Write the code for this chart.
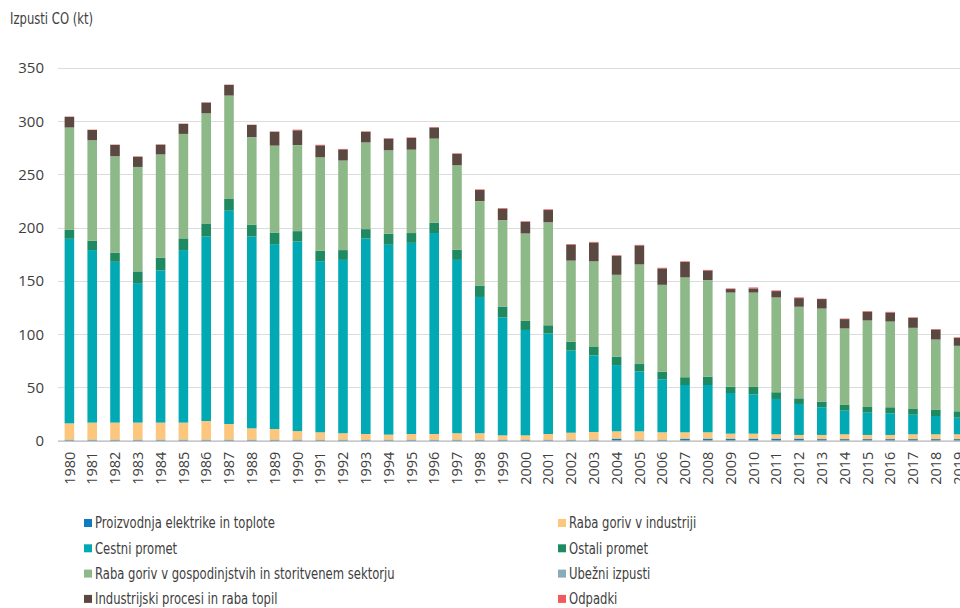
<!DOCTYPE html>
<html>
<head>
<meta charset="utf-8">
<script src="https://cdn.jsdelivr.net/npm/d3@7"></script>
<style>
  body { margin: 0; background: #fff; }
  svg { display: block; }
</style>
</head>
<body>
<div id="chart"></div>
<script>
// Izpusti CO po sektorjih, 1980-2019 (kt)
const years = d3.range(1980, 2020).map(String)

const seriesNames = [
  'Proizvodnja elektrike in toplote',
  'Raba goriv v industriji',
  'Cestni promet',
  'Ostali promet',
  'Raba goriv v gospodinjstvih in storitvenem sektorju',
  'Ubežni izpusti',
  'Industrijski procesi in raba topil',
  'Odpadki',
]

const seriesColors = ['#0f7cc1', '#fcc77c', '#00a9b3', '#1f8a62', '#8db887', '#89acbb', '#5a4841', '#ee5a5d']

const elektrika = [1, 1, 1, 1, 1, 1, 1, 1, 1, 1, 1, 1, 1, 1, 1, 1, 1, 1, 1, 1,
  1, 1, 1, 1, 2, 1, 1, 2, 2, 2, 2, 2, 2, 1.5, 1.5, 1.5, 1.5, 1.5, 1.5, 1.5]
const industrija = [15.3, 16, 16, 16, 16, 16, 17.5, 14.7, 10.6, 10, 8, 6.9, 6, 5.3, 4.7, 5.3, 5.3, 6, 6, 4,
  4, 5.3, 6.5, 7.2, 6.8, 7.8, 6.9, 5.9, 5.9, 4.6, 4.6, 4, 3.4, 3.9, 4.5, 3.9, 3.9, 4.5, 4.5, 4.5]
const cestni = [173.3, 162, 151, 131, 143, 162, 173.2, 200.3, 180.1, 173.6, 178, 160.7, 162.8, 183.7, 178.3, 179.5, 188.7, 162.8, 128, 110.6,
  99, 94.3, 77.1, 71.8, 62.2, 56.2, 49.8, 44.4, 44.4, 38.2, 37, 33.2, 29.1, 26, 22.2, 20.9, 20.3, 18.4, 17.2, 15.6]
const ostaliPromet = [8.4, 8.7, 8.4, 11, 11.7, 11, 12.3, 11, 11, 10.9, 9.8, 9.7, 9.2, 8.7, 10.3, 9.2, 9.6, 9.4, 10.7, 10.4,
  8.5, 7.8, 8.4, 8, 8, 7, 7.1, 7.3, 7.9, 6, 6.9, 6.3, 5.3, 5.3, 5.4, 5.4, 5.7, 5.4, 5.7, 6]
const gospodinjstva = [96, 94.3, 90.6, 98, 97, 98, 103.3, 97, 82.3, 81.5, 80.8, 87.7, 84, 81.3, 78.3, 78.2, 79, 79.3, 79.3, 81,
  82, 96.6, 76, 80.3, 76.7, 93.4, 81.5, 93.6, 90.5, 88.2, 88.5, 88.9, 85.9, 87.3, 71.7, 81.1, 80.4, 76.1, 66, 61.4]
const ubezni = [0.1, 0.1, 0.1, 0.1, 0.1, 0.1, 0.1, 0.1, 0.1, 0.1, 0.1, 0.1, 0.1, 0.1, 0.1, 0.1, 0.1, 0.1, 0.1, 0.1,
  0.1, 0.1, 0.1, 0.1, 0.1, 0.1, 0.1, 0.1, 0.1, 0.1, 0.1, 0.1, 0.1, 0.1, 0.1, 0.1, 0.1, 0.1, 0.1, 0.1]
const procesi = [10, 9.7, 10.7, 9.6, 9.2, 9.4, 10.1, 10, 11.4, 13, 13.8, 11.3, 10.5, 10, 11, 11, 10.4, 10.7, 10.3, 10.8,
  10.9, 11.5, 15, 17.7, 17.9, 17.9, 15.4, 14.5, 9.1, 3.3, 3.9, 6, 8.1, 8.9, 8.8, 8.2, 8.5, 9.4, 9.4, 7.5]
const odpadki = [0.3, 0.3, 0.3, 0.3, 0.3, 0.3, 0.3, 0.3, 0.3, 0.3, 0.6, 0.5, 0.4, 0.4, 0.4, 0.5, 0.5, 0.6, 0.6, 0.6,
  0.6, 0.7, 0.6, 0.6, 0.5, 0.5, 0.6, 0.6, 0.5, 0.6, 0.9, 0.6, 0.7, 0.4, 0.5, 0.6, 0.6, 0.5, 0.5, 0.5]

const yTicks = [0, 50, 100, 150, 200, 250, 300, 350]

const seriesValues = [elektrika, industrija, cestni, ostaliPromet, gospodinjstva, ubezni, procesi, odpadki]

// Build table rows for the stack layout
const table = years.map((year, i) => {
  const row = { year }
  seriesNames.forEach((name, k) => { row[name] = seriesValues[k][i] })
  return row
})

const width = 960
const height = 608
const margin = { top: 68, left: 58, bottom: 167 }
const narrowFont = '"DejaVu Sans", sans-serif'

const svg = d3
  .select('#chart')
  .append('svg')
  .attr('width', width)
  .attr('height', height)

// Scales
const x = d3
  .scaleBand()
  .domain(years)
  .range([margin.left, margin.left + 22.8 * years.length])
  .paddingInner(0.58)
  .paddingOuter(0.29)

const y = d3
  .scaleLinear()
  .domain([0, 350])
  .range([height - margin.bottom - 0.3, margin.top])

// Grid lines
svg
  .append('g')
  .selectAll('line')
  .data(yTicks.slice(1))
  .join('line')
  .attr('x1', margin.left)
  .attr('x2', width)
  .attr('y1', (d) => Math.round(y(d)) + 0.5)
  .attr('y2', (d) => Math.round(y(d)) + 0.5)
  .attr('stroke', '#dcdcdc')
  .attr('stroke-width', 1)

// Y tick labels
svg
  .append('g')
  .selectAll('text')
  .data(yTicks)
  .join('text')
  .attr('x', 44)
  .attr('y', (d) => y(d))
  .attr('dy', '0.36em')
  .attr('text-anchor', 'end')
  .attr('font-family', '"Open Sans", sans-serif')
  .attr('font-size', 15)
  .attr('fill', '#404040')
  .text((d) => d)

// Stacked bars
const stack = d3.stack().keys(seriesNames)
const layers = stack(table)

svg
  .append('g')
  .selectAll('g')
  .data(layers)
  .join('g')
  .attr('fill', (d, i) => seriesColors[i])
  .selectAll('rect')
  .data((d) => d)
  .join('rect')
  .attr('x', (d) => x(d.data.year))
  .attr('width', x.bandwidth())
  .attr('y', (d) => y(d[1]))
  .attr('height', (d) => Math.max(0, y(d[0]) - y(d[1])))

// X axis line
svg
  .append('line')
  .attr('x1', margin.left)
  .attr('x2', width)
  .attr('y1', y(0) + 0.5)
  .attr('y2', y(0) + 0.5)
  .attr('stroke', '#b5b5b5')
  .attr('stroke-width', 1.3)

// Year labels, rotated
svg
  .append('g')
  .selectAll('text')
  .data(years)
  .join('text')
  .attr('transform', (d) => `translate(${x(d) + x.bandwidth() / 2},${y(0) + 11}) rotate(-90)`)
  .attr('text-anchor', 'end')
  .attr('dy', '0.36em')
  .attr('font-family', '"Open Sans", sans-serif')
  .attr('font-size', 14.5)
  .attr('fill', '#404040')
  .text((d) => d)

// Axis title (condensed look via horizontal scale)
const title = svg
  .append('text')
  .attr('font-family', narrowFont)
  .attr('font-size', 15)
  .attr('fill', '#404040')
  .text('Izpusti CO (kt)')

// Legend in two columns
const legend = svg
  .append('g')
  .selectAll('g')
  .data(seriesNames)
  .join('g')
  .attr('transform', (d, i) => `translate(${i % 2 === 0 ? 84 : 558},${523 + Math.floor(i / 2) * 25.3})`)

legend
  .append('rect')
  .attr('x', 0)
  .attr('y', -4)
  .attr('width', 8)
  .attr('height', 8)
  .attr('fill', (d, i) => seriesColors[i])

const legendText = legend
  .append('text')
  .attr('dy', '0.35em')
  .attr('font-family', narrowFont)
  .attr('font-size', 15)
  .attr('fill', '#404040')
  .text((d) => d)

// Squeeze the text so the longest label is about 300px wide, like the condensed original
const longest = legendText.filter((d, i) => i === 4).node().getComputedTextLength()
const squeeze = 300 / longest
legendText.attr('transform', `translate(11,0) scale(${squeeze},1)`)
title.attr('transform', `translate(10,24) scale(${squeeze},1)`)
</script>
</body>
</html>
